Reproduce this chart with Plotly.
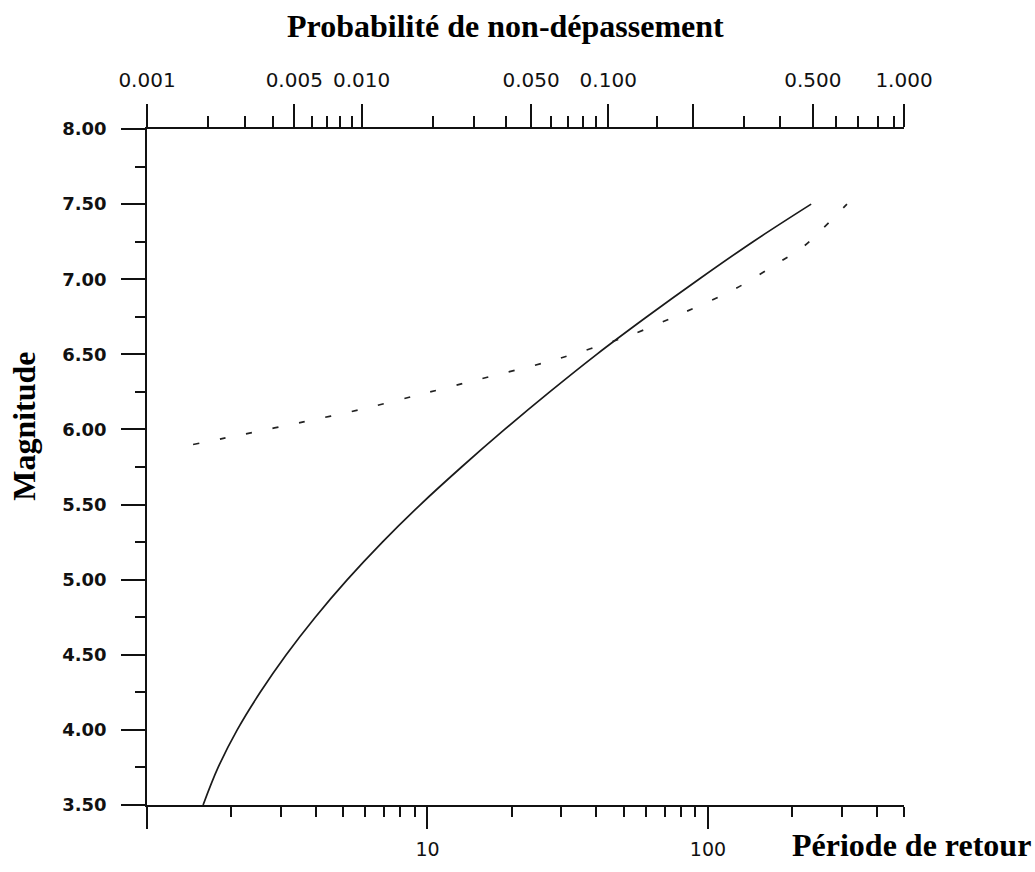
import plotly.graph_objects as go

# Return period (years) and magnitude for the two recurrence curves
solid_period = [1.585, 1.793, 2.097, 2.533, 3.136, 3.981, 5.179, 6.907, 9.441, 13.23,
                18.84, 27.28, 40.13, 60.56, 92.87, 144.8, 233.3]
solid_mag = [3.50, 3.75, 4.00, 4.25, 4.50, 4.75, 5.00, 5.25, 5.50, 5.75,
             6.00, 6.25, 6.50, 6.75, 7.00, 7.25, 7.50]

dashed_period = [1.46, 2.24, 3.61, 5.68, 8.86, 15.0, 28.0, 53.3, 82.5, 123.5, 182.0, 220.0, 313.0]
dashed_mag = [5.90, 5.97, 6.05, 6.13, 6.22, 6.33, 6.46, 6.63, 6.78, 6.93, 7.12, 7.22, 7.50]

# Probability of non-exceedance scale (top axis), placed along the return period scale
prob_labels = ["0.001", "0.005", "0.010", "0.050", "0.100", "", "0.500", "1.000"]
prob_at_period = [1.0, 3.35, 5.82, 23.4, 44.1, 88.5, 236.6, 500.0]
prob_minor_at_period = [1.65, 2.24, 2.82, 3.88, 4.39, 4.89, 5.40, 10.5, 14.6, 19.0,
                        27.5, 31.6, 35.8, 39.8, 65.8, 134.5, 180.7, 286.0, 343.0, 405.0, 462.0]

# Magnitude ticks
mag_ticks = [3.5 + 0.5 * i for i in range(10)]
mag_minor = [3.75 + 0.5 * i for i in range(9)]

PERIOD_MAX = 500.0
x_range = [0, 2.69897]

INK = "#111111"
TITLE_FONT = dict(family="Liberation Serif", size=32, color="black", weight="bold")
TICK_FONT = dict(family="DejaVu Sans", size=20, color=INK)

fig = go.Figure()

fig.add_trace(go.Scatter(
    x=solid_period, y=solid_mag, mode="lines",
    line=dict(color="#1a1a1a", width=1.7, shape="spline", smoothing=1.0),
    showlegend=False, xaxis="x", yaxis="y",
))
fig.add_trace(go.Scatter(
    x=dashed_period, y=dashed_mag, mode="lines",
    line=dict(color="#222222", width=1.7, dash="6px,21px", shape="spline", smoothing=0.8),
    showlegend=False, xaxis="x", yaxis="y",
))
# invisible trace anchoring the top axis
fig.add_trace(go.Scatter(
    x=[1.0, PERIOD_MAX], y=[3.5, 3.5], mode="markers",
    marker=dict(opacity=0), showlegend=False, hoverinfo="skip",
    xaxis="x2", yaxis="y",
))

bottom_minor = [d * 10 ** e for e in range(3) for d in range(2, 10) if d * 10 ** e <= PERIOD_MAX]

fig.update_layout(
    width=1035, height=872,
    margin=dict(l=147, r=131, t=129, b=59),
    paper_bgcolor="white", plot_bgcolor="white",
    xaxis=dict(
        type="log", range=x_range,
        showgrid=False, zeroline=False,
        showline=True, linecolor=INK, linewidth=1.5,
        tickmode="array", tickvals=[1, 10, 100], ticktext=["", "10", "100"],
        ticks="outside", ticklen=22, tickwidth=1.5, tickcolor=INK,
        tickfont=dict(family="DejaVu Sans", size=19, color=INK), ticklabelstandoff=4,
        minor=dict(tickmode="array", tickvals=bottom_minor, ticks="outside",
                   ticklen=10, tickwidth=1.5, tickcolor=INK, showgrid=False),
    ),
    xaxis2=dict(
        type="log", range=x_range, overlaying="x", side="top", anchor="y",
        showgrid=False, zeroline=False,
        showline=True, linecolor=INK, linewidth=1.5,
        tickmode="array", tickvals=prob_at_period, ticktext=prob_labels,
        ticks="outside", ticklen=23, tickwidth=1.5, tickcolor=INK,
        tickfont=TICK_FONT, ticklabelstandoff=9,
        minor=dict(tickmode="array", tickvals=prob_minor_at_period, ticks="outside",
                   ticklen=11, tickwidth=1.5, tickcolor=INK, showgrid=False),
    ),
    yaxis=dict(
        range=[3.5, 8.0],
        showgrid=False, zeroline=False,
        showline=True, linecolor=INK, linewidth=1.5,
        tickmode="array", tickvals=mag_ticks,
        ticktext=[f"{v:.2f}" for v in mag_ticks],
        ticks="outside", ticklen=24, tickwidth=1.5, tickcolor=INK,
        tickfont=dict(family="DejaVu Sans", size=18, color=INK, weight="bold"),
        ticklabelstandoff=11,
        minor=dict(tickmode="array", tickvals=mag_minor, ticks="outside",
                   ticklen=10, tickwidth=1.5, tickcolor=INK, showgrid=False),
    ),
    annotations=[
        dict(text="Probabilité de non-dépassement", xref="paper", yref="paper",
             x=0.474, y=1.152, xanchor="center", yanchor="middle",
             showarrow=False, font=TITLE_FONT),
        dict(text="Magnitude", xref="paper", yref="paper",
             x=-0.162, y=0.56, xanchor="center", yanchor="middle",
             textangle=-90, showarrow=False, font=TITLE_FONT),
        dict(text="Période de retour", xref="paper", yref="paper",
             x=0.849, y=-0.0585, xanchor="left", yanchor="middle",
             showarrow=False, font=TITLE_FONT),
    ],
)

fig.write_html("out.html")
